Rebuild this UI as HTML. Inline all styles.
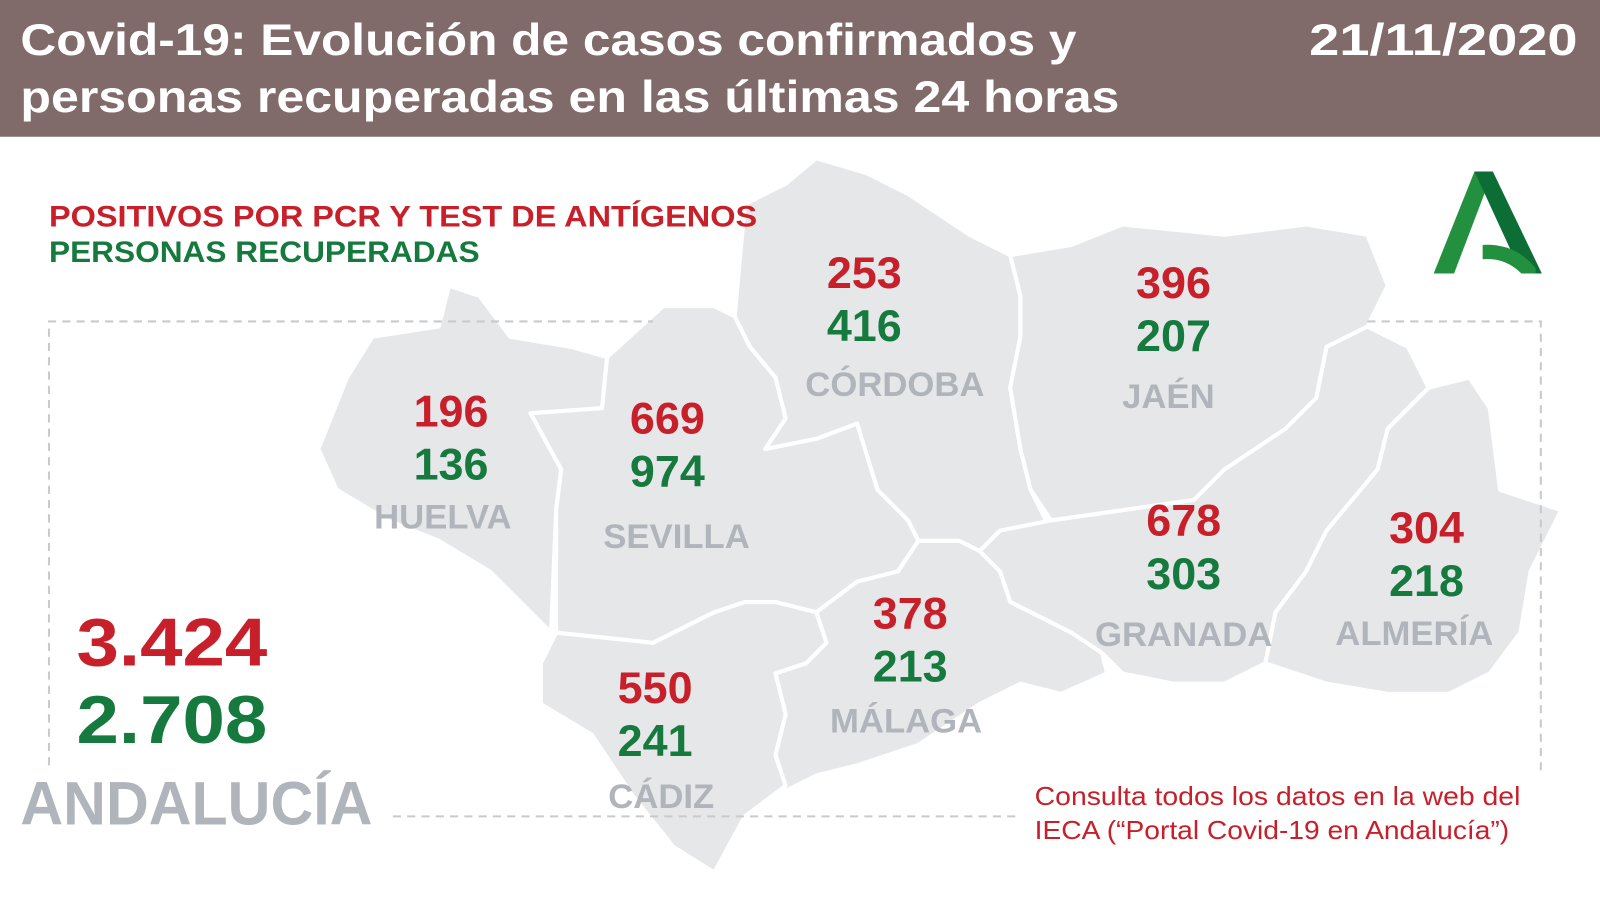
<!DOCTYPE html>
<html><head><meta charset="utf-8"><style>
html,body{margin:0;padding:0;background:#fff}
svg{display:block}
text{font-family:"Liberation Sans",sans-serif;font-weight:bold}
</style></head><body>
<svg width="1600" height="899" viewBox="0 0 1568 881" xmlns="http://www.w3.org/2000/svg">
<rect x="0" y="0" width="1568" height="134" fill="#806a6a"/>
<text x="20" y="54" font-size="44" fill="#fff" textLength="1035" lengthAdjust="spacingAndGlyphs">Covid-19: Evolución de casos confirmados y</text>
<text x="20" y="110" font-size="44" fill="#fff" textLength="1077" lengthAdjust="spacingAndGlyphs">personas recuperadas en las últimas 24 horas</text>
<text x="1283" y="54" font-size="44" fill="#fff" textLength="263" lengthAdjust="spacingAndGlyphs">21/11/2020</text>

<g fill="#e6e7e9" stroke="#fff" stroke-width="4" stroke-linejoin="round">
<polygon points="312,440 340,370 365,330 430,320 440,280 470,290 500,330 560,340 595,350 590,400 520,405 550,460 545,500 540,620 520,600 480,560 430,530 380,510 330,480"/>
<polygon points="595,350 650,300 700,300 720,310 735,340 760,370 770,410 750,440 800,430 840,415 860,480 890,510 900,530 880,560 840,570 800,600 760,590 730,590 700,600 640,630 545,620 545,500 550,460 520,405 590,400"/>
<polygon points="545,620 640,630 700,600 730,590 760,590 800,600 810,630 790,650 760,660 770,700 760,740 770,770 730,800 700,855 660,830 620,780 580,720 530,690 530,650"/>
<polygon points="720,310 730,200 770,180 800,155 850,170 890,190 950,230 990,250 1000,290 1000,330 990,380 1000,440 1010,480 1030,520 980,520 960,540 940,530 900,530 890,510 860,480 840,415 800,430 750,440 770,410 760,370 735,340"/>
<polygon points="990,250 1050,240 1100,220 1200,230 1280,220 1340,230 1360,280 1340,320 1300,340 1290,390 1260,420 1200,460 1170,490 1100,500 1030,510 1010,480 1000,440 990,380 1000,330 1000,290"/>
<polygon points="1030,510 1100,500 1170,490 1200,460 1260,420 1290,390 1300,340 1340,320 1380,340 1400,380 1360,420 1350,460 1300,520 1280,560 1250,600 1240,650 1200,670 1150,670 1100,660 1080,640 1050,620 990,590 980,560 960,540 980,520"/>
<polygon points="1400,380 1440,370 1460,400 1470,480 1530,500 1500,560 1490,620 1460,660 1420,680 1360,680 1300,670 1240,650 1250,600 1280,560 1300,520 1350,460 1360,420"/>
<polygon points="800,600 840,570 880,560 900,530 940,530 960,540 980,560 990,590 1050,620 1080,640 1085,660 1040,680 1000,670 960,690 900,730 840,750 800,760 760,780 770,770 760,740 770,700 760,660 790,650 810,630"/>
</g>

<g stroke="#c8cacd" stroke-width="2" stroke-dasharray="8,6" fill="none">
<polyline points="48,750 48,315 640,315"/>
<polyline points="1340,315 1510,315 1510,760"/>
<line x1="385" y1="800" x2="1000" y2="800"/>
</g>

<g transform="translate(1405,168)">
<polygon points="40,0 58,0 20,100 0,100" fill="#23903f"/>
<polygon points="40,0 58,0 106,100 86,100" fill="#0d6e35"/>
<path d="M48,72 Q80,70 100,95 L100,100 L86,100 Q70,84 48,86 Z" fill="#23903f"/>
</g>

<text x="48" y="222" font-size="29" fill="#c8202a" textLength="694" lengthAdjust="spacingAndGlyphs">POSITIVOS POR PCR Y TEST DE ANTÍGENOS</text>
<text x="48" y="257" font-size="29" fill="#167a3e" textLength="422" lengthAdjust="spacingAndGlyphs">PERSONAS RECUPERADAS</text>

<g font-size="44" text-anchor="middle">
<text x="847" y="282" fill="#c8202a">253</text><text x="847" y="334" fill="#167a3e">416</text>
<text x="1150" y="292" fill="#c8202a">396</text><text x="1150" y="344" fill="#167a3e">207</text>
<text x="442" y="418" fill="#c8202a">196</text><text x="442" y="470" fill="#167a3e">136</text>
<text x="654" y="425" fill="#c8202a">669</text><text x="654" y="477" fill="#167a3e">974</text>
<text x="1160" y="525" fill="#c8202a">678</text><text x="1160" y="577" fill="#167a3e">303</text>
<text x="1398" y="532" fill="#c8202a">304</text><text x="1398" y="584" fill="#167a3e">218</text>
<text x="892" y="616" fill="#c8202a">378</text><text x="892" y="668" fill="#167a3e">213</text>
<text x="642" y="689" fill="#c8202a">550</text><text x="642" y="741" fill="#167a3e">241</text>
</g>
<g font-size="34" text-anchor="middle" fill="#b0b4bb">
<text x="877" y="388">CÓRDOBA</text>
<text x="1145" y="400">JAÉN</text>
<text x="434" y="518">HUELVA</text>
<text x="663" y="537">SEVILLA</text>
<text x="1160" y="633">GRANADA</text>
<text x="1386" y="632">ALMERÍA</text>
<text x="888" y="718">MÁLAGA</text>
<text x="648" y="792">CÁDIZ</text>
</g>
<text x="75" y="652" font-size="66" fill="#c8202a" textLength="187" lengthAdjust="spacingAndGlyphs">3.424</text>
<text x="75" y="728" font-size="66" fill="#167a3e" textLength="187" lengthAdjust="spacingAndGlyphs">2.708</text>
<text x="20" y="808" font-size="60" fill="#b0b4bb" textLength="345" lengthAdjust="spacingAndGlyphs">ANDALUCÍA</text>
<text x="1014" y="789" font-size="25" fill="#c8202a" style="font-weight:normal" textLength="476" lengthAdjust="spacingAndGlyphs">Consulta todos los datos en la web del</text>
<text x="1014" y="822" font-size="25" fill="#c8202a" style="font-weight:normal" textLength="465" lengthAdjust="spacingAndGlyphs">IECA (“Portal Covid-19 en Andalucía”)</text>
</svg>
</body></html>
